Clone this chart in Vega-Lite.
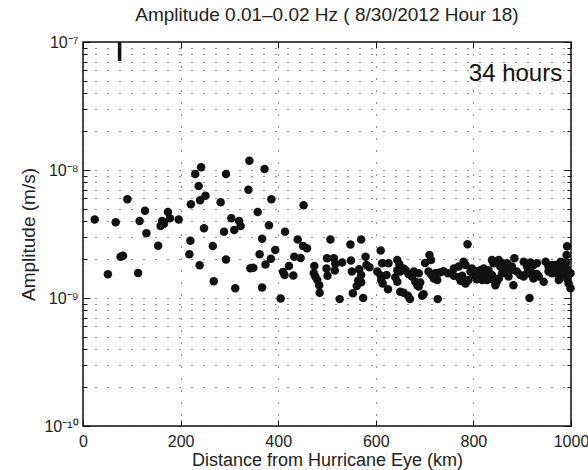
{
  "$schema": "https://vega.github.io/schema/vega-lite/v6.json",
  "width": 488,
  "height": 384,
  "autosize": "none",
  "padding": {"left": 83, "top": 42, "right": 17, "bottom": 44},
  "background": "white",
  "config": {
    "font": "Liberation Sans",
    "view": {"stroke": "#111", "strokeWidth": 1.5},
    "axis": {"labelFont": "Liberation Sans", "titleFont": "Liberation Sans", "labelColor": "#222", "titleColor": "#222", "titleFontWeight": "normal", "tickColor": "#111", "domain": false, "labelOverlap": false, "labelFlush": false}
  },
  "title": {"text": "Amplitude 0.01–0.02 Hz ( 8/30/2012 Hour 18)", "fontSize": 19, "fontWeight": "normal", "font": "Liberation Sans", "color": "#222", "offset": 9},
  "datasets": {
    "pts": [
      {"km":24,"amp":4.1e-9},{"km":67,"amp":3.9e-9},{"km":91,"amp":5.9e-9},{"km":127,"amp":4.8e-9},{"km":116,"amp":4.0e-9},
      {"km":130,"amp":3.2e-9},{"km":174,"amp":4.7e-9},{"km":178,"amp":4.2e-9},{"km":162,"amp":4.0e-9},{"km":159,"amp":3.65e-9},
      {"km":166,"amp":3.8e-9},{"km":196,"amp":4.1e-9},{"km":154,"amp":2.56e-9},{"km":77,"amp":2.1e-9},{"km":82,"amp":2.14e-9},
      {"km":51,"amp":1.53e-9},{"km":113,"amp":1.57e-9},{"km":221,"amp":5.4e-9},{"km":230,"amp":9.3e-9},{"km":242,"amp":1.05e-8},
      {"km":237,"amp":7.5e-9},{"km":240,"amp":5.8e-9},{"km":251,"amp":6.3e-9},{"km":248,"amp":3.5e-9},{"km":220,"amp":2.8e-9},
      {"km":218,"amp":2.2e-9},{"km":239,"amp":1.8e-9},{"km":266,"amp":2.55e-9},{"km":268,"amp":1.35e-9},{"km":282,"amp":5.6e-9},
      {"km":293,"amp":9.3e-9},{"km":289,"amp":3.3e-9},{"km":304,"amp":4.2e-9},{"km":320,"amp":4.0e-9},{"km":323,"amp":3.65e-9},
      {"km":310,"amp":3.4e-9},{"km":293,"amp":2.0e-9},{"km":341,"amp":1.18e-8},{"km":339,"amp":7.0e-9},{"km":358,"amp":4.7e-9},
      {"km":372,"amp":1.02e-8},{"km":386,"amp":5.9e-9},{"km":381,"amp":3.7e-9},{"km":367,"amp":2.9e-9},{"km":362,"amp":2.2e-9},
      {"km":343,"amp":1.71e-9},{"km":349,"amp":1.72e-9},{"km":312,"amp":1.19e-9},{"km":367,"amp":1.21e-9},{"km":405,"amp":9.9e-10},
      {"km":394,"amp":2.37e-9},{"km":385,"amp":2.03e-9},{"km":374,"amp":1.83e-9},{"km":414,"amp":3.3e-9},{"km":410,"amp":1.6e-9},
      {"km":413,"amp":1.51e-9},{"km":422,"amp":1.78e-9},{"km":431,"amp":1.5e-9},{"km":433,"amp":2.1e-9},{"km":446,"amp":2.05e-9},
      {"km":440,"amp":2.87e-9},{"km":451,"amp":2.55e-9},{"km":459,"amp":2.45e-9},{"km":452,"amp":5.3e-9},{"km":474,"amp":1.78e-9},
      {"km":473,"amp":1.56e-9},{"km":476,"amp":1.47e-9},{"km":480,"amp":1.38e-9},{"km":484,"amp":1.26e-9},{"km":485,"amp":1.1e-9},
      {"km":500,"amp":2.04e-9},{"km":507,"amp":2.87e-9},{"km":499,"amp":1.7e-9},{"km":501,"amp":1.49e-9},{"km":514,"amp":2.04e-9},
      {"km":517,"amp":1.84e-9},{"km":516,"amp":1.64e-9},{"km":531,"amp":1.89e-9},{"km":526,"amp":9.8e-10},{"km":548,"amp":2.62e-9},
      {"km":570,"amp":2.87e-9},{"km":549,"amp":1.96e-9},{"km":551,"amp":1.61e-9},{"km":566,"amp":1.68e-9},{"km":570,"amp":1.51e-9},
      {"km":564,"amp":1.37e-9},{"km":561,"amp":1.24e-9},{"km":570,"amp":1.33e-9},{"km":579,"amp":2.1e-9},{"km":581,"amp":1.81e-9},
      {"km":587,"amp":1.74e-9},{"km":553,"amp":1.09e-9},{"km":574,"amp":1.0e-9},{"km":610,"amp":2.35e-9},{"km":613,"amp":1.87e-9},
      {"km":626,"amp":1.87e-9},{"km":603,"amp":1.61e-9},{"km":610,"amp":1.5e-9},{"km":611,"amp":1.38e-9},{"km":614,"amp":1.3e-9},
      {"km":622,"amp":1.51e-9},{"km":625,"amp":1.17e-9},{"km":644,"amp":1.98e-9},{"km":648,"amp":1.84e-9},{"km":644,"amp":1.65e-9},
      {"km":650,"amp":1.61e-9},{"km":661,"amp":1.65e-9},{"km":667,"amp":1.54e-9},{"km":674,"amp":1.47e-9},{"km":681,"amp":1.34e-9},
      {"km":685,"amp":1.26e-9},{"km":640,"amp":1.45e-9},{"km":644,"amp":1.34e-9},{"km":650,"amp":1.12e-9},{"km":657,"amp":1.1e-9},
      {"km":666,"amp":1.04e-9},{"km":670,"amp":9.8e-10},{"km":691,"amp":1.32e-9},{"km":688,"amp":1.23e-9},{"km":698,"amp":1.07e-9},
      {"km":695,"amp":1.04e-9},{"km":710,"amp":2.17e-9},{"km":713,"amp":1.98e-9},{"km":701,"amp":1.88e-9},{"km":708,"amp":1.61e-9},
      {"km":714,"amp":1.51e-9},{"km":719,"amp":1.42e-9},{"km":727,"amp":9.8e-10},{"km":726,"amp":1.38e-9},{"km":722,"amp":1.56e-9},
      {"km":731,"amp":1.58e-9},{"km":739,"amp":1.62e-9},{"km":748,"amp":1.56e-9},{"km":657,"amp":1.7e-9},{"km":678,"amp":1.61e-9},
      {"km":688,"amp":1.56e-9},{"km":760,"amp":1.49e-9},{"km":760,"amp":1.7e-9},{"km":770,"amp":1.45e-9},{"km":770,"amp":1.76e-9},
      {"km":777,"amp":1.49e-9},{"km":780,"amp":1.92e-9},{"km":784,"amp":1.81e-9},{"km":774,"amp":1.36e-9},{"km":788,"amp":2.63e-9},
      {"km":784,"amp":1.3e-9},{"km":790,"amp":1.38e-9},{"km":794,"amp":1.61e-9},{"km":801,"amp":1.51e-9},{"km":797,"amp":1.7e-9},
      {"km":807,"amp":1.61e-9},{"km":811,"amp":1.51e-9},{"km":818,"amp":1.38e-9},{"km":814,"amp":1.65e-9},{"km":821,"amp":1.51e-9},
      {"km":807,"amp":1.4e-9},{"km":821,"amp":1.7e-9},{"km":824,"amp":1.47e-9},{"km":828,"amp":1.38e-9},{"km":831,"amp":1.65e-9},
      {"km":838,"amp":1.98e-9},{"km":841,"amp":1.87e-9},{"km":845,"amp":1.92e-9},{"km":838,"amp":1.51e-9},{"km":841,"amp":1.38e-9},
      {"km":845,"amp":1.26e-9},{"km":848,"amp":1.34e-9},{"km":852,"amp":1.98e-9},{"km":855,"amp":1.76e-9},{"km":859,"amp":1.87e-9},
      {"km":852,"amp":1.42e-9},{"km":859,"amp":1.56e-9},{"km":835,"amp":1.47e-9},{"km":862,"amp":1.65e-9},{"km":869,"amp":1.56e-9},
      {"km":872,"amp":1.47e-9},{"km":869,"amp":1.87e-9},{"km":872,"amp":1.78e-9},{"km":876,"amp":1.65e-9},{"km":879,"amp":1.76e-9},
      {"km":884,"amp":2.04e-9},{"km":882,"amp":1.26e-9},{"km":889,"amp":1.61e-9},{"km":896,"amp":1.51e-9},{"km":903,"amp":1.47e-9},
      {"km":903,"amp":1.92e-9},{"km":910,"amp":1.76e-9},{"km":917,"amp":1.89e-9},{"km":917,"amp":1.65e-9},{"km":920,"amp":1.51e-9},
      {"km":923,"amp":1.81e-9},{"km":923,"amp":1.42e-9},{"km":915,"amp":1.0e-9},{"km":910,"amp":1.56e-9},{"km":930,"amp":1.54e-9},
      {"km":930,"amp":1.87e-9},{"km":934,"amp":1.47e-9},{"km":944,"amp":1.34e-9},{"km":948,"amp":1.92e-9},{"km":954,"amp":1.76e-9},
      {"km":961,"amp":1.81e-9},{"km":958,"amp":1.65e-9},{"km":954,"amp":1.61e-9},{"km":961,"amp":1.56e-9},{"km":964,"amp":1.65e-9},
      {"km":968,"amp":1.81e-9},{"km":971,"amp":1.65e-9},{"km":971,"amp":1.56e-9},{"km":975,"amp":1.47e-9},{"km":975,"amp":1.38e-9},
      {"km":979,"amp":1.92e-9},{"km":983,"amp":1.76e-9},{"km":979,"amp":1.61e-9},{"km":986,"amp":1.51e-9},{"km":986,"amp":1.61e-9},
      {"km":992,"amp":2.54e-9},{"km":991,"amp":2.17e-9},{"km":990,"amp":1.89e-9},{"km":991,"amp":1.7e-9},{"km":999,"amp":1.56e-9},
      {"km":992,"amp":1.42e-9},{"km":995,"amp":1.3e-9},{"km":999,"amp":1.19e-9}
    ],
    "marker": [{"km": 75, "top": 1e-7, "bottom": 7.1e-8}],
    "note": [{"km": 982, "amp": 5.6e-8, "label": "34 hours"}]
  },
  "layer": [
    {
      "data": {"name": "pts"},
      "mark": {"type": "point", "shape": "circle", "filled": true, "size": 72, "color": "#111", "opacity": 1},
      "encoding": {
        "x": {"field": "km", "type": "quantitative", "scale": {"domain": [0, 1000], "nice": false, "zero": false},
          "axis": {"orient": "bottom", "values": [0, 200, 400, 600, 800, 1000], "format": "d", "tickSize": -6, "labelFontSize": 16, "labelPadding": 13,
            "grid": true, "gridDash": [1, 11], "gridColor": "#222", "gridWidth": 1,
            "title": "Distance from Hurricane Eye (km)", "titleFontSize": 18, "titlePadding": 2}},
        "y": {"field": "amp", "type": "quantitative", "scale": {"type": "log", "domain": [1e-10, 1e-7], "nice": false},
          "axis": {"orient": "left",
            "values": [1e-10,2e-10,3e-10,4e-10,5e-10,6e-10,7e-10,8e-10,9e-10,1e-9,2e-9,3e-9,4e-9,5e-9,6e-9,7e-9,8e-9,9e-9,1e-8,2e-8,3e-8,4e-8,5e-8,6e-8,7e-8,8e-8,9e-8,1e-7],
            "labelExpr": "abs(datum.value-1e-7)<1e-10 ? '10⁻⁷' : abs(datum.value-1e-8)<1e-11 ? '10⁻⁸' : abs(datum.value-1e-9)<1e-12 ? '10⁻⁹' : abs(datum.value-1e-10)<1e-13 ? '10⁻¹⁰' : ''",
            "tickSize": {"condition": {"test": "abs(log(datum.value)/LN10 - round(log(datum.value)/LN10)) < 0.001", "value": -7}, "value": -4},
            "labelFontSize": 16, "labelPadding": 12,
            "grid": true, "gridDash": [1, 11], "gridColor": "#222", "gridWidth": 1,
            "title": "Amplitude (m/s)", "titleFontSize": 19, "titlePadding": 5}}
      }
    },
    {
      "data": {"name": "pts"},
      "mark": {"type": "point", "opacity": 0},
      "encoding": {
        "x": {"field": "km", "type": "quantitative", "scale": {"domain": [0, 1000], "nice": false, "zero": false},
          "axis": {"orient": "top", "values": [0, 200, 400, 600, 800, 1000], "tickSize": -6, "labels": false, "grid": false, "title": null}},
        "y": {"field": "amp", "type": "quantitative", "scale": {"type": "log", "domain": [1e-10, 1e-7], "nice": false},
          "axis": {"orient": "right",
            "values": [1e-10,2e-10,3e-10,4e-10,5e-10,6e-10,7e-10,8e-10,9e-10,1e-9,2e-9,3e-9,4e-9,5e-9,6e-9,7e-9,8e-9,9e-9,1e-8,2e-8,3e-8,4e-8,5e-8,6e-8,7e-8,8e-8,9e-8,1e-7],
            "tickSize": {"condition": {"test": "abs(log(datum.value)/LN10 - round(log(datum.value)/LN10)) < 0.001", "value": -7}, "value": -4},
            "labels": false, "grid": false, "title": null}}
      }
    },
    {
      "data": {"name": "marker"},
      "mark": {"type": "rule", "strokeWidth": 3.5, "color": "#111"},
      "encoding": {
        "x": {"field": "km", "type": "quantitative", "scale": {"domain": [0, 1000], "nice": false, "zero": false}, "axis": null},
        "y": {"field": "top", "type": "quantitative", "scale": {"type": "log", "domain": [1e-10, 1e-7], "nice": false}, "axis": null},
        "y2": {"field": "bottom"}
      }
    },
    {
      "data": {"name": "note"},
      "mark": {"type": "text", "align": "right", "baseline": "middle", "fontSize": 24, "font": "Liberation Sans", "color": "#111"},
      "encoding": {
        "x": {"field": "km", "type": "quantitative", "scale": {"domain": [0, 1000], "nice": false, "zero": false}, "axis": null},
        "y": {"field": "amp", "type": "quantitative", "scale": {"type": "log", "domain": [1e-10, 1e-7], "nice": false}, "axis": null},
        "text": {"field": "label"}
      }
    }
  ],
  "resolve": {"axis": {"x": "independent", "y": "independent"}}
}
